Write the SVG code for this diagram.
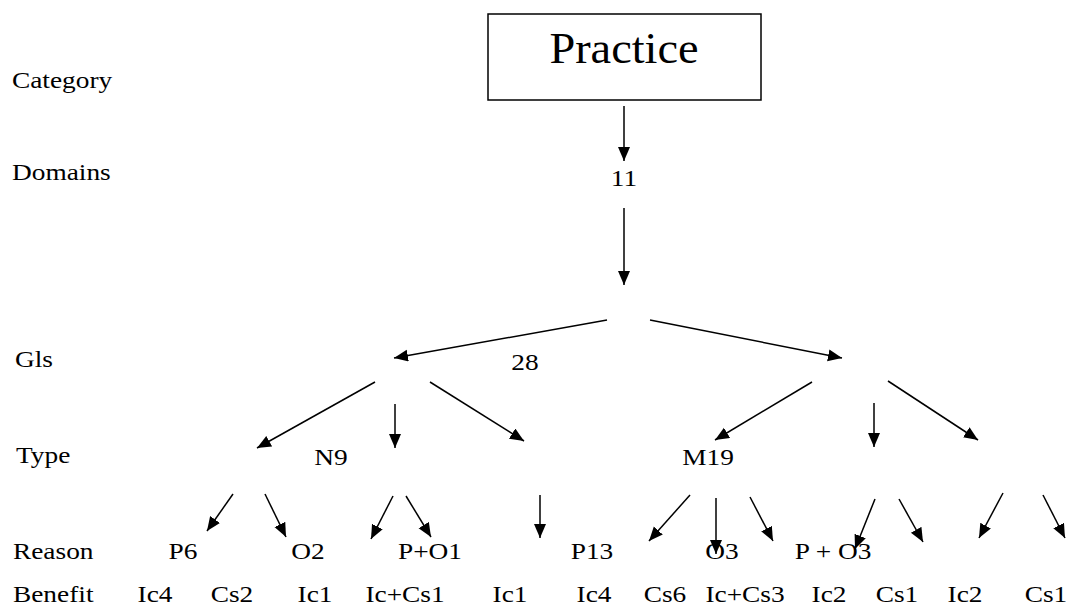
<svg xmlns="http://www.w3.org/2000/svg" width="1066" height="606" viewBox="0 0 1066 606">
  <style>
    text { font-family: "Liberation Serif", "Times New Roman", serif; fill: #000; }
    .lbl { font-size: 24px; }
    .node { font-size: 24px; text-anchor: middle; }
    .title { font-size: 45px; text-anchor: middle; }
    .edge { stroke: #000; stroke-width: 1.5; fill: none; marker-end: url(#arrow); }
  </style>
  <defs>
    <marker id="arrow" markerUnits="userSpaceOnUse" markerWidth="16" markerHeight="14" refX="14" refY="6" orient="auto">
      <path d="M0,0 L14,6 L0,12 Z" fill="#000"/>
    </marker>
  </defs>
  <rect width="1066" height="606" fill="#fff"/>

  <!-- row labels (text is set slightly wide) -->
  <g id="row-labels">
    <text class="lbl" transform="translate(12,88) scale(1.14,1)">Category</text>
    <text class="lbl" transform="translate(12,180) scale(1.14,1)">Domains</text>
    <text class="lbl" transform="translate(15,367) scale(1.14,1)">Gls</text>
    <text class="lbl" transform="translate(16,463) scale(1.14,1)">Type</text>
    <text class="lbl" transform="translate(13,559) scale(1.14,1)">Reason</text>
    <text class="lbl" transform="translate(13,602) scale(1.14,1)">Benefit</text>
  </g>

  <g id="practice">
    <rect x="488" y="14" width="273" height="86" fill="#fff" stroke="#000" stroke-width="1.5"/>
    <text class="title" transform="translate(624,63) scale(1.03,1)">Practice</text>
  </g>

  <g id="domains"><text class="node" transform="translate(624,186) scale(1.14,1)">11</text></g>
  <g id="gls"><text class="node" transform="translate(525,370) scale(1.14,1)">28</text></g>
  <g id="type-n"><text class="node" transform="translate(331,465) scale(1.14,1)">N9</text></g>
  <g id="type-m"><text class="node" transform="translate(708,465) scale(1.14,1)">M19</text></g>

  <g id="reasons">
    <text class="node" transform="translate(183,559) scale(1.14,1)">P6</text>
    <text class="node" transform="translate(308,559) scale(1.14,1)">O2</text>
    <text class="node" transform="translate(430,559) scale(1.14,1)">P+O1</text>
    <text class="node" transform="translate(592,559) scale(1.14,1)">P13</text>
    <text class="node" transform="translate(722,559) scale(1.14,1)">O3</text>
    <text class="node" transform="translate(833,559) scale(1.14,1)">P + O3</text>
  </g>

  <g id="benefits">
    <text class="node" transform="translate(155,602) scale(1.14,1)">Ic4</text>
    <text class="node" transform="translate(232,602) scale(1.14,1)">Cs2</text>
    <text class="node" transform="translate(315,602) scale(1.14,1)">Ic1</text>
    <text class="node" transform="translate(405,602) scale(1.14,1)">Ic+Cs1</text>
    <text class="node" transform="translate(510,602) scale(1.14,1)">Ic1</text>
    <text class="node" transform="translate(594,602) scale(1.14,1)">Ic4</text>
    <text class="node" transform="translate(665,602) scale(1.14,1)">Cs6</text>
    <text class="node" transform="translate(745,602) scale(1.14,1)">Ic+Cs3</text>
    <text class="node" transform="translate(829,602) scale(1.14,1)">Ic2</text>
    <text class="node" transform="translate(897,602) scale(1.14,1)">Cs1</text>
    <text class="node" transform="translate(965,602) scale(1.14,1)">Ic2</text>
    <text class="node" transform="translate(1046,602) scale(1.14,1)">Cs1</text>
  </g>

  <g id="connectors">
    <line class="edge" x1="624" y1="106" x2="624" y2="161"/>
    <line class="edge" x1="624" y1="208" x2="624" y2="285"/>
    <line class="edge" x1="607" y1="320" x2="394" y2="358"/>
    <line class="edge" x1="650" y1="320" x2="842" y2="358"/>
    <line class="edge" x1="375" y1="382" x2="257" y2="448"/>
    <line class="edge" x1="395" y1="404" x2="395" y2="448"/>
    <line class="edge" x1="430" y1="382" x2="524" y2="441"/>
    <line class="edge" x1="812" y1="382" x2="715" y2="440"/>
    <line class="edge" x1="874" y1="403" x2="874" y2="447"/>
    <line class="edge" x1="888" y1="381" x2="978" y2="440"/>
    <line class="edge" x1="233" y1="494" x2="207" y2="531"/>
    <line class="edge" x1="265" y1="494" x2="286" y2="537"/>
    <line class="edge" x1="393" y1="496" x2="371" y2="539"/>
    <line class="edge" x1="406" y1="496" x2="431" y2="537"/>
    <line class="edge" x1="540" y1="495" x2="540" y2="538"/>
    <line class="edge" x1="690" y1="495" x2="649" y2="541"/>
    <line class="edge" x1="716" y1="498" x2="716" y2="554"/>
    <line class="edge" x1="750" y1="497" x2="773" y2="541"/>
    <line class="edge" x1="875" y1="499" x2="855" y2="549"/>
    <line class="edge" x1="899" y1="499" x2="923" y2="542"/>
    <line class="edge" x1="1003" y1="493" x2="979" y2="538"/>
    <line class="edge" x1="1043" y1="495" x2="1065" y2="538"/>
  </g>
</svg>
